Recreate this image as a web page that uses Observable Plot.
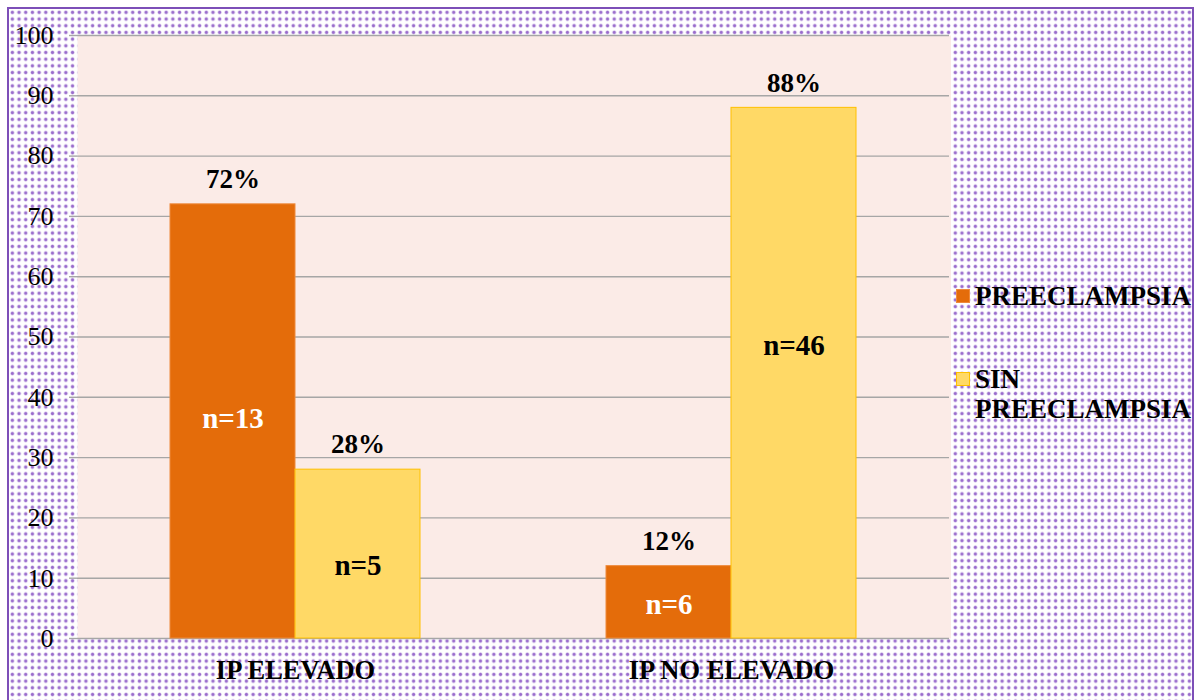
<!DOCTYPE html>
<html>
<head>
<meta charset="utf-8">
<script src="https://cdn.jsdelivr.net/npm/d3@7"></script>
<script src="https://cdn.jsdelivr.net/npm/@observablehq/plot@0.6"></script>
<style>
  html, body { margin: 0; padding: 0; background: #ffffff; }
  #wrap { position: relative; width: 1197px; height: 700px; overflow: hidden; }
  #bg {
    position: absolute; left: 7px; top: 7px; width: 1183px; height: 720px;
    border: 2px solid #7d4fb8;
    background-color: #ffffff;
    background-image: radial-gradient(circle, #9a6ccc 1.1px, rgba(170,135,215,0.55) 1.7px, transparent 2.3px);
    background-size: 6.7px 6.7px;
  }
  #chart { position: absolute; left: 0; top: 0; }
  #legend { position: absolute; left: 956px; top: 0; font-family: 'Liberation Serif', 'Times New Roman', serif;
    font-weight: bold; font-size: 27px; line-height: 30px; color: #000; }
  .item { position: absolute; left: 0; display: flex; align-items: flex-start; }
  .sw { width: 14px; height: 14px; margin-top: 8px; margin-right: 5px; box-sizing: border-box; flex: none; }
  .lab { width: 222px; }
</style>
</head>
<body>
<div id="wrap">
  <div id="bg"></div>
  <div id="chart"></div>
  <div id="legend"></div>
</div>
<script>
const categories = ["IP ELEVADO", "IP NO ELEVADO"];
const series = ["PREECLAMPSIA", "SIN PREECLAMPSIA"];
const preeclampsia = [72, 12];
const sinPreeclampsia = [28, 88];
const nPreeclampsia = [13, 6];
const nSinPreeclampsia = [5, 46];
// vertical anchor (in % units) of the "n=" labels
const nLabelPreeclampsia = [36.5, 5.6];
const nLabelSinPreeclampsia = [12, 48.6];
const yTicks = [0, 10, 20, 30, 40, 50, 60, 70, 80, 90, 100];

const seriesFill = ["#E46C0A", "#FFD966"];
const seriesStroke = ["#EE8A3C", "#FFC000"];
const nTextFill = ["#ffffff", "#000000"];

const pre = categories.map((c, i) => ({cat: c, series: series[0], value: preeclampsia[i], n: nPreeclampsia[i], ny: nLabelPreeclampsia[i]}));
const sin = categories.map((c, i) => ({cat: c, series: series[1], value: sinPreeclampsia[i], n: nSinPreeclampsia[i], ny: nLabelSinPreeclampsia[i]}));
const groups = [pre, sin];

const font = "'Liberation Serif', 'Times New Roman', serif";

const marks = [
  Plot.frame({fill: "#FBEBE7", stroke: null, insetRight: -1.5}),
  Plot.gridY({ticks: yTicks, stroke: "#A6A6A6", strokeOpacity: 1, strokeWidth: 1.4}),
  Plot.axisY({ticks: yTicks, tickSize: 8, tickPadding: 16, fontSize: 26, stroke: "#A6A6A6", strokeWidth: 1.4, fill: "#000", line: true, label: null}),
  Plot.axisFx({anchor: "bottom", tickSize: 0, tickPadding: 22, fontSize: 26.5, fontWeight: "bold", fill: "#000", label: null})
];
groups.forEach((g, k) => {
  marks.push(Plot.barY(g, {fx: "cat", x: "series", y: "value", fill: seriesFill[k], stroke: seriesStroke[k], strokeWidth: 1, insetLeft: 0, insetRight: 0}));
  marks.push(Plot.text(g, {fx: "cat", x: "series", y: "value", text: d => d.value + "%", dy: -25, fontSize: 27, fontWeight: "bold", fill: "#000"}));
  marks.push(Plot.text(g, {fx: "cat", x: "series", y: "ny", text: d => "n=" + d.n, fontSize: 29, fontWeight: "bold", fill: nTextFill[k]}));
});

const chart = Plot.plot({
  width: 1197,
  height: 700,
  marginLeft: 76,
  marginRight: 248,
  marginTop: 35,
  marginBottom: 62,
  style: {background: "transparent", fontFamily: font, color: "#000", overflow: "visible"},
  fx: {domain: categories, padding: 0, label: null},
  x: {domain: series, paddingInner: 0, paddingOuter: 0.744, axis: null},
  y: {domain: [0, 100], label: null},
  marks
});
document.getElementById("chart").appendChild(chart);

// legend
const legend = document.getElementById("legend");
const legendTops = [281, 364];
series.forEach((s, k) => {
  const item = document.createElement("div");
  item.className = "item";
  item.style.top = legendTops[k] + "px";
  const sw = document.createElement("div");
  sw.className = "sw";
  sw.style.background = seriesFill[k];
  sw.style.border = "1px solid " + seriesStroke[k];
  const lab = document.createElement("div");
  lab.className = "lab";
  lab.textContent = s;
  item.appendChild(sw);
  item.appendChild(lab);
  legend.appendChild(item);
});
</script>
</body>
</html>
